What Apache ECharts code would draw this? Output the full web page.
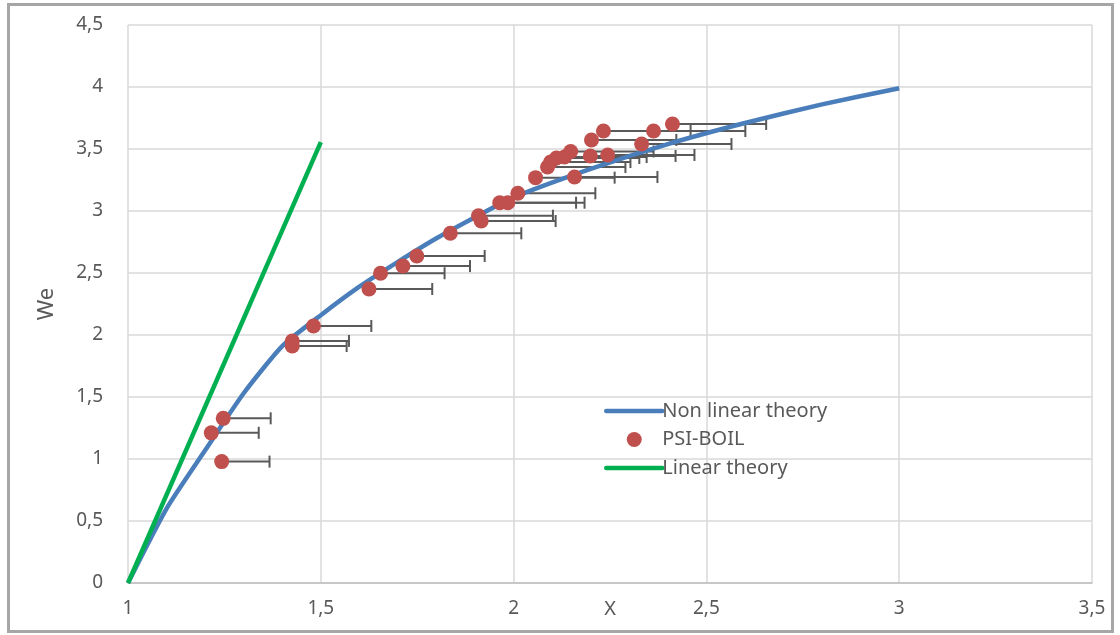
<!DOCTYPE html>
<html>
<head>
<meta charset="utf-8">
<script src="https://cdn.jsdelivr.net/npm/echarts@6/dist/echarts.min.js"></script>
<style>
html,body{margin:0;padding:0;background:#fff;}
#chart{width:1120px;height:635px;}
</style>
</head>
<body>
<div id="chart"></div>
<script>
// Non linear theory curve
const nlX  = [1, 1.1, 1.2, 1.3, 1.4, 1.5, 1.6, 1.7, 1.8, 1.9, 2.0, 2.2, 2.4, 2.6, 2.8, 3.0];
const nlWe = [0, 0.60, 1.07, 1.53, 1.91, 2.16, 2.39, 2.59, 2.78, 2.95, 3.11, 3.34, 3.54, 3.71, 3.86, 3.99];

// Linear theory
const linX  = [1, 1.5];
const linWe = [0, 3.555];

// PSI-BOIL simulations (X, We, positive X error)
const psiX   = [1.243, 1.216, 1.247, 1.426, 1.426, 1.481, 1.625, 1.655, 1.713, 1.749, 1.836, 1.909, 1.916, 1.964, 1.985, 2.011, 2.057, 2.088, 2.096, 2.111, 2.132, 2.148, 2.158, 2.199, 2.244, 2.202, 2.233, 2.332, 2.363, 2.412];
const psiWe  = [0.979, 1.211, 1.328, 1.911, 1.952, 2.073, 2.371, 2.498, 2.556, 2.637, 2.820, 2.962, 2.919, 3.067, 3.067, 3.143, 3.269, 3.355, 3.395, 3.427, 3.435, 3.480, 3.274, 3.444, 3.452, 3.573, 3.645, 3.540, 3.645, 3.702];
const psiErr = [0.124, 0.123, 0.123, 0.141, 0.147, 0.150, 0.164, 0.166, 0.174, 0.176, 0.184, 0.193, 0.193, 0.198, 0.199, 0.201, 0.205, 0.202, 0.207, 0.215, 0.213, 0.215, 0.215, 0.221, 0.225, 0.220, 0.226, 0.233, 0.238, 0.243];

const xTickMin = 1, xTickMax = 3.5, xTickStep = 0.5;
const yTickMin = 0, yTickMax = 4.5, yTickStep = 0.5;

const FONT = 'Noto Sans';
const TXT = '#595959';
const BLUE = '#4a7ebb', RED = '#c0504d', GREEN = '#00b050';

const zip = (a, b) => a.map((v, i) => [v, b[i]]);
const fmt = v => String(Math.round(v * 100) / 100).replace('.', ',');

const chart = echarts.init(document.getElementById('chart'), null, {renderer: 'canvas'});
chart.setOption({
  animation: false,
  backgroundColor: '#fff',
  textStyle: {fontFamily: FONT},
  graphic: [{
    type: 'rect', silent: true, z: -10,
    shape: {x: 8.5, y: 4.5, width: 1104, height: 627},
    style: {fill: 'none', stroke: '#a6a6a6', lineWidth: 3}
  }],
  grid: {left: 128, right: 28, top: 25, bottom: 52, containLabel: false, outerBoundsMode: 'none'},
  legend: {
    orient: 'vertical',
    left: 604, top: 401, padding: 0,
    itemWidth: 56, itemHeight: 15, itemGap: 8.5,
    data: [
      {name: 'Non linear theory', itemStyle: {opacity: 0}, lineStyle: {width: 4.5, cap: 'round', color: BLUE}},
      {name: 'PSI-BOIL'},
      {name: 'Linear theory', itemStyle: {opacity: 0}, lineStyle: {width: 4.5, cap: 'round', color: GREEN}}
    ],
    textStyle: {fontFamily: FONT, fontSize: 20, color: TXT, padding: [0, 0, 0, -5]}
  },
  xAxis: {
    type: 'value', min: xTickMin, max: xTickMax, interval: xTickStep,
    name: 'X', nameLocation: 'middle', nameGap: 16, nameMoveOverlap: false,
    nameTextStyle: {fontFamily: FONT, fontSize: 20, color: TXT, verticalAlign: 'top'},
    axisLine: {show: true, lineStyle: {color: '#bfbfbf', width: 1.5}},
    axisTick: {show: false},
    axisLabel: {margin: 16, fontFamily: FONT, fontSize: 19, color: TXT, formatter: fmt},
    splitLine: {show: true, lineStyle: {color: '#d9d9d9', width: 1.5}}
  },
  yAxis: {
    type: 'value', min: yTickMin, max: yTickMax, interval: yTickStep,
    name: 'We', nameLocation: 'middle', nameGap: 70, nameRotate: 90, nameMoveOverlap: false,
    nameTextStyle: {fontFamily: FONT, fontSize: 22, color: TXT},
    axisLine: {show: false},
    axisTick: {show: false},
    axisLabel: {margin: 25, fontFamily: FONT, fontSize: 19, color: TXT, formatter: fmt},
    splitLine: {show: true, lineStyle: {color: '#d9d9d9', width: 1.5}}
  },
  series: [
    {
      name: 'errbars', type: 'custom', z: 2,
      data: psiX.map((x, i) => [x, psiWe[i], psiErr[i]]),
      renderItem: function (params, api) {
        const x = api.value(0), y = api.value(1), e = api.value(2);
        const p0 = api.coord([x, y]);
        const p1 = api.coord([x + e, y]);
        const st = {stroke: '#595959', lineWidth: 2};
        return {type: 'group', children: [
          {type: 'line', shape: {x1: p0[0], y1: p0[1], x2: p1[0], y2: p1[1]}, style: st},
          {type: 'line', shape: {x1: p1[0], y1: p1[1] - 6, x2: p1[0], y2: p1[1] + 6}, style: st}
        ]};
      }
    },
    {
      name: 'Non linear theory', type: 'line', z: 3,
      data: zip(nlX, nlWe), symbol: 'none', smooth: 0.2,
      lineStyle: {color: BLUE, width: 4.5}, itemStyle: {color: BLUE}
    },
    {
      name: 'PSI-BOIL', type: 'scatter', z: 4,
      data: zip(psiX, psiWe), symbol: 'circle', symbolSize: 15,
      itemStyle: {color: RED, opacity: 1}
    },
    {
      name: 'Linear theory', type: 'line', z: 5,
      data: zip(linX, linWe), symbol: 'none',
      lineStyle: {color: GREEN, width: 4.5}, itemStyle: {color: GREEN}
    }
  ]
});
</script>
</body>
</html>
